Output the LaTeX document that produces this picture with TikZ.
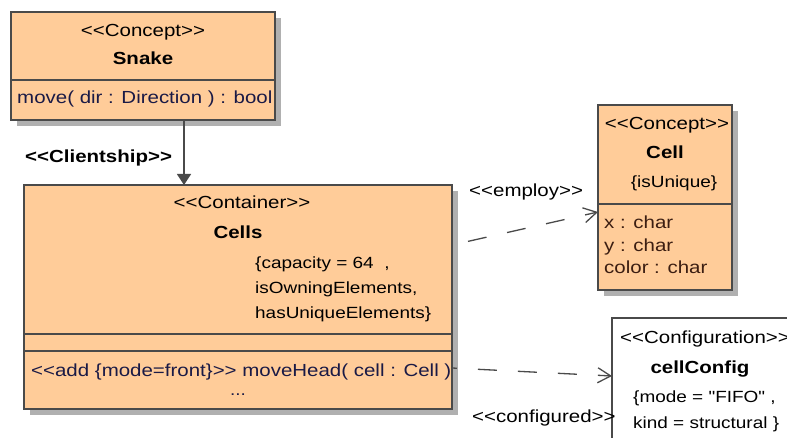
\documentclass[tikz,border=0pt]{standalone}
\usepackage{fontspec}
\setmainfont{Liberation Sans}[FakeStretch=1.17, Ligatures=TeXOff]
\usetikzlibrary{arrows.meta,shadows,calc}
\definecolor{classfill}{HTML}{FFCC99}
\definecolor{classline}{HTML}{4A4A4A}
\definecolor{shadowgray}{HTML}{B0B0B0}
\definecolor{optext}{HTML}{1A1A46}
\definecolor{attrtext}{HTML}{3C1E12}
\begin{document}
\begin{tikzpicture}[x=1pt,y=-1pt,
  classbox/.style={draw=classline, line width=1.3pt, fill=classfill, inner sep=0pt, outer sep=0pt,
    anchor=north west,
    drop shadow={shadow xshift=6pt, shadow yshift=-6pt, fill=shadowgray, opacity=1}},
  plainbox/.style={draw=classline, line width=1.3pt, fill=white, inner sep=0pt, outer sep=0pt, anchor=north west},
  divider/.style={draw=classline, line width=1.3pt},
  txt/.style={inner sep=0pt, font=\fontsize{17.5}{20}\selectfont},
  small/.style={inner sep=0pt, font=\fontsize{16.2}{19}\selectfont},
  clsname/.style={inner sep=0pt, font=\fontsize{17.5}{20}\selectfont\bfseries},
  assoc/.style={draw=classline, line width=1.3pt, -{Triangle[length=11pt,width=14pt]}},
  dep/.style={draw=classline, line width=1.3pt, dash pattern=on 19pt off 21pt,
    -{Straight Barb[length=13pt,width=15pt,line width=1.3pt]}}
]
\useasboundingbox (0,0) rectangle (787,438);

% class boxes
\node[classbox, minimum width=264pt, minimum height=108pt] (snakebox) at (11,12) {};
\node[classbox, minimum width=428pt, minimum height=224pt] (cellsbox) at (24,185) {};
\node[classbox, minimum width=134pt, minimum height=185pt] (cellbox) at (598,105) {};
\node[plainbox, minimum width=220pt, minimum height=150pt] (cfgbox) at (612,318) {};

% compartment dividers
\draw[divider] (snakebox.west |- 0,80) -- (snakebox.east |- 0,80);
\draw[divider] (cellsbox.west |- 0,334) -- (cellsbox.east |- 0,334);
\draw[divider] (cellsbox.west |- 0,351) -- (cellsbox.east |- 0,351);
\draw[divider] (cellbox.west |- 0,204) -- (cellbox.east |- 0,204);

% Snake
\node[txt, anchor=base] (snakeSt) at (143,37) {<<Concept>>};
\node[clsname, anchor=base] (snakeName) at (143,65) {Snake};
\node[txt, anchor=base west, text=optext] (snakeOp) at (17,104) {move( dir : Direction ) : bool};

% Cells
\node[txt, anchor=base] (cellsSt) at (242,209) {<<Container>>};
\node[clsname, anchor=base] (cellsName) at (238,239) {Cells};
\node[small, anchor=base west] (cellsC1) at (255,269) {\{capacity = 64~~,};
\node[small, anchor=base west] (cellsC2) at (255,294) {isOwningElements,};
\node[small, anchor=base west] (cellsC3) at (255,319) {hasUniqueElements\}};
\node[txt, anchor=base west, text=optext] (cellsOp) at (31,376) {<<add \{mode=front\}>> moveHead( cell : Cell )};
\node[small, anchor=base, text=optext] (cellsMore) at (238,395) {...};

% Cell
\node[txt, anchor=base] (cellSt) at (667,130) {<<Concept>>};
\node[clsname, anchor=base] (cellName) at (665,159) {Cell};
\node[small, anchor=base] (cellC) at (674,188) {\{isUnique\}};
\node[txt, anchor=base west, text=attrtext] (cellA1) at (604,229) {x : char};
\node[txt, anchor=base west, text=attrtext] (cellA2) at (604,252) {y : char};
\node[txt, anchor=base west, text=attrtext] (cellA3) at (604,274) {color : char};

% cellConfig
\node[txt, anchor=base west] (cfgSt) at (620,343) {<<Configuration>>};
\node[clsname, anchor=base] (cfgName) at (700,373) {cellConfig};
\node[small, anchor=base west] (cfgC1) at (633,402) {\{mode = "FIFO" ,};
\node[small, anchor=base west] (cfgC2) at (633,428) {kind = structural \}};

% connectors
\draw[assoc] ($(snakebox.south west)+(173,0)$) -- ($(cellsbox.north west)+(160,0)$);
\node[clsname, anchor=base west] (clientLbl) at (25,163) {<<Clientship>>};

\draw[dep, dash phase=23.6pt] ($(cellsbox.north east)+(0,60)$) -- ($(cellbox.north west)+(0,107)$);
\node[txt, anchor=base west] (employLbl) at (469,197) {<<employ>>};

\draw[dep, dash phase=14pt] ($(cellsbox.north east)+(0,183)$) -- ($(cfgbox.north west)+(0,58)$);
\node[txt, anchor=base west] (confLbl) at (472,422) {<<configured>>};
\end{tikzpicture}
\end{document}
